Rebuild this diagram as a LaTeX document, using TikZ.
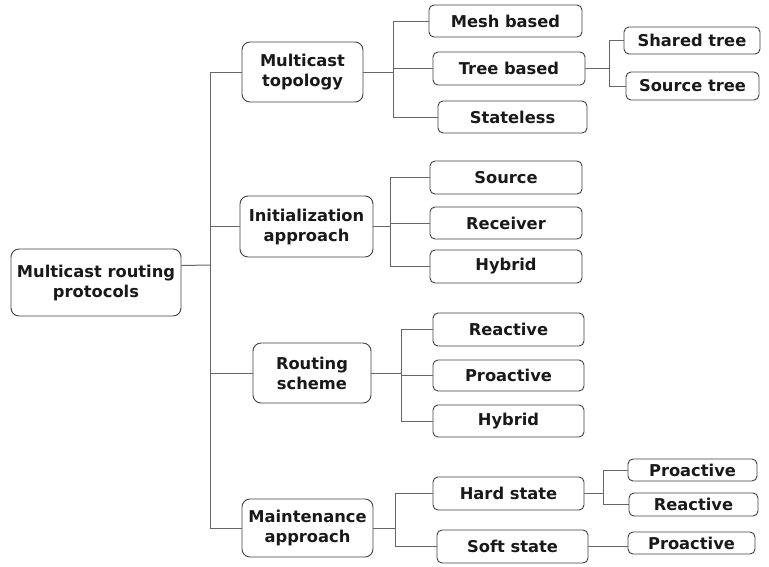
\documentclass[tikz,border=0pt]{standalone}
\usepackage{fontspec}
\setmainfont{DejaVu Sans}
\usepackage{tikz}

\begin{document}
\begin{tikzpicture}[x=1pt, y=-1pt,
    box/.style={draw=black!75, rounded corners=8pt, line width=0.9pt, align=center, inner sep=0pt,
        text=black!90, font=\bfseries\fontsize{16.3}{20}\selectfont},
    leaf/.style={box, rounded corners=5pt},
    link/.style={draw=black!60, line width=1pt}]
    \useasboundingbox (0,0) rectangle (769,566);
    \node[box, minimum width=170pt, minimum height=67pt] (root) at (96, 282.5) {Multicast routing\\protocols};

    \node[box, minimum width=121pt, minimum height=60pt] (topo) at (302.5, 72) {Multicast\\topology};
    \node[box, minimum width=133pt, minimum height=61pt] (init) at (306.5, 226.5) {Initialization\\approach};
    \node[box, minimum width=118pt, minimum height=60pt] (rout) at (312, 373) {Routing\\scheme};
    \node[box, minimum width=131pt, minimum height=58pt] (maint) at (307.5, 528) {Maintenance\\approach};

    \node[leaf, minimum width=153pt, minimum height=32pt] (mesh) at (505.5, 21) {Mesh based};
    \node[leaf, minimum width=152pt, minimum height=33pt] (tree) at (509, 68.5) {Tree based};
    \node[leaf, minimum width=149pt, minimum height=32pt] (stateless) at (512.5, 117) {Stateless};
    \node[leaf, minimum width=136pt, minimum height=27pt] (shared) at (692, 40.5) {Shared tree};
    \node[leaf, minimum width=133pt, minimum height=28pt] (srctree) at (692.5, 86) {Source tree};

    \node[leaf, minimum width=152pt, minimum height=33pt] (source) at (506, 177.5) {Source};
    \node[leaf, minimum width=152pt, minimum height=32pt] (receiver) at (506, 223) {Receiver};
    \node[leaf, minimum width=152pt, minimum height=33pt] (hybrida) at (506, 266.5) {Hybrid};

    \node[leaf, minimum width=151pt, minimum height=33pt] (reactive) at (508.5, 329.5) {Reactive};
    \node[leaf, minimum width=151pt, minimum height=31pt] (proactive) at (508.5, 375.5) {Proactive};
    \node[leaf, minimum width=151pt, minimum height=32pt] (hybridb) at (508.5, 421) {Hybrid};

    \node[leaf, minimum width=151pt, minimum height=33pt] (hard) at (508.5, 493.5) {Hard state};
    \node[leaf, minimum width=151pt, minimum height=33pt] (soft) at (512.5, 546.5) {Soft state};
    \node[leaf, minimum width=129pt, minimum height=22pt] (hardpro) at (692.5, 470) {Proactive};
    \node[leaf, minimum width=129pt, minimum height=23pt] (hardrea) at (693.5, 504.5) {Reactive};
    \node[leaf, minimum width=127pt, minimum height=22pt] (softpro) at (691.5, 543) {Proactive};

    \coordinate (trunk) at (210, 265);
    \coordinate (jtopo) at (393, 0);
    \coordinate (jinit) at (390, 0);
    \coordinate (jrout) at (401, 0);
    \coordinate (jmaint) at (395, 0);
    \coordinate (jtree) at (609, 0);
    \coordinate (jhard) at (603, 0);

    \draw[link] ([yshift=17pt]root.east) -- (trunk);
    \draw[link] (topo.west) -- (topo.west -| trunk) -- (maint.west -| trunk) -- (maint.west);
    \draw[link] (init.west) -- (init.west -| trunk);
    \draw[link] (rout.west) -- (rout.west -| trunk);

    \draw[link] (topo.east) -- (topo.east -| jtopo);
    \draw[link] (mesh.west) -- (mesh.west -| jtopo) -- (stateless.west -| jtopo) -- (stateless.west);
    \draw[link] (tree.west) -- (tree.west -| jtopo);
    \draw[link] (tree.east) -- (tree.east -| jtree);
    \draw[link] (shared.west) -- (shared.west -| jtree) -- (srctree.west -| jtree) -- (srctree.west);

    \draw[link] (init.east) -- (init.east -| jinit);
    \draw[link] (source.west) -- (source.west -| jinit) -- (hybrida.west -| jinit) -- (hybrida.west);
    \draw[link] (receiver.west) -- (receiver.west -| jinit);

    \draw[link] (rout.east) -- (rout.east -| jrout);
    \draw[link] (reactive.west) -- (reactive.west -| jrout) -- (hybridb.west -| jrout) -- (hybridb.west);
    \draw[link] (proactive.west) -- (proactive.west -| jrout);

    \draw[link] (maint.east) -- (maint.east -| jmaint);
    \draw[link] (hard.west) -- (hard.west -| jmaint) -- (soft.west -| jmaint) -- (soft.west);
    \draw[link] (hard.east) -- (hard.east -| jhard);
    \draw[link] (hardpro.west) -- (hardpro.west -| jhard) -- (hardrea.west -| jhard) -- (hardrea.west);
    \draw[link] (soft.east) -- (soft.east -| softpro.west);
\end{tikzpicture}
\end{document}
